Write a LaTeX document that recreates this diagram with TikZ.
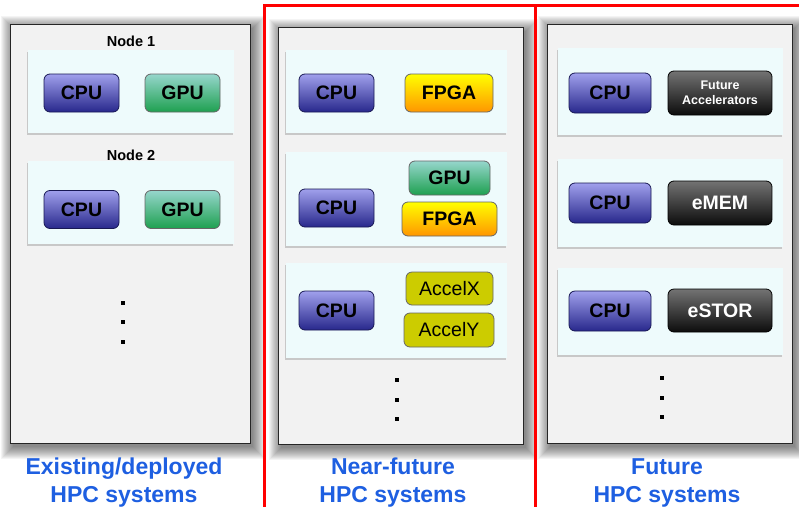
\documentclass[tikz,border=0pt]{standalone}
\usepackage{fontspec}
\setmainfont{Liberation Sans}
\usetikzlibrary{shadows}
\definecolor{panelfill}{RGB}{242,242,242}
\definecolor{boxfill}{RGB}{238,251,252}
\definecolor{cputop}{RGB}{160,160,236}
\definecolor{cpubot}{RGB}{40,40,140}
\definecolor{gputop}{RGB}{150,214,204}
\definecolor{gpubot}{RGB}{30,160,80}
\definecolor{fpgatop}{RGB}{255,255,0}
\definecolor{fpgabot}{RGB}{255,150,0}
\definecolor{accfill}{RGB}{204,204,0}
\definecolor{darktop}{RGB}{115,115,115}
\definecolor{darkbot}{RGB}{12,12,12}
\definecolor{labelblue}{RGB}{30,95,225}
\definecolor{frame}{RGB}{255,0,0}
\begin{document}
\begin{tikzpicture}[x=1pt,y=-1pt,
  panel/.style={draw=black!85, line width=1pt, fill=panelfill, inner sep=0pt},
  nodebox/.style={fill=boxfill, inner sep=0pt,
    drop shadow={shadow xshift=-0.8pt, shadow yshift=-1.6pt, opacity=0.25, fill=black!70}},
  comp/.style={rounded corners=6pt, draw=black!70, line width=0.8pt, inner sep=0pt,
    font=\fontsize{19.5}{19.5}\selectfont\bfseries},
  cpu/.style={comp, top color=cputop, bottom color=cpubot, draw=cpubot!60!black},
  gpu/.style={comp, top color=gputop, bottom color=gpubot, draw=black!60},
  fpga/.style={comp, top color=fpgatop, bottom color=fpgabot, draw=black!60},
  accel/.style={comp, fill=accfill, draw=black!60, font=\fontsize{19.5}{19.5}\selectfont},
  darkacc/.style={comp, top color=darktop, bottom color=darkbot, draw=black, text=white},
  nodelabel/.style={font=\fontsize{14.5}{14.5}\selectfont\bfseries},
  syslabel/.style={font=\fontsize{23}{28}\selectfont\bfseries, text=labelblue, align=center},
  dotmark/.style={fill=black, inner sep=0pt, minimum size=4pt},
  redframe/.style={draw=frame, line width=3pt}
]
\useasboundingbox (0,0) rectangle (799,506);
\fill[white] (0,0) rectangle (799,506);

% soft shadows behind the three panels
\foreach \xa/\ya/\xb/\yb in {10/24/250/443, 278/27/523/444, 547/24/792/443} {
  \foreach \i in {0,...,12}
    \fill[black, opacity=0.045] (\xa+3-\i,\ya+4-\i) rectangle (\xb+3+\i,\yb+4+\i);
}

% panels
\node[panel, minimum width=240pt, minimum height=419pt] (p1) at (130,233.5) {};
\node[panel, minimum width=245pt, minimum height=417pt] (p2) at (400.5,235.5) {};
\node[panel, minimum width=245pt, minimum height=419pt] (p3) at (669.5,233.5) {};

% existing systems
\node[nodelabel] (l11) at (131,41) {Node 1};
\node[nodebox, minimum width=206pt, minimum height=83pt] (n11) at (131,91.5) {};
\node[cpu, minimum width=75pt, minimum height=38pt] (c11) at (81.5,93) {CPU};
\node[gpu, minimum width=75pt, minimum height=38pt] (g11) at (182.5,93) {GPU};
\node[nodelabel] (l12) at (131,155) {Node 2};
\node[nodebox, minimum width=206pt, minimum height=83pt] (n12) at (131,202.5) {};
\node[cpu, minimum width=75pt, minimum height=38pt] (c12) at (81.5,209.5) {CPU};
\node[gpu, minimum width=75pt, minimum height=38pt] (g12) at (182.5,209.5) {GPU};
\node[dotmark] (d11) at (123,303) {};
\node[dotmark] (d12) at (123,322) {};
\node[dotmark] (d13) at (123,342) {};
\node[syslabel] (s1) at (124,482.5) {Existing/deployed\\HPC systems};

% near-future systems
\node[nodebox, minimum width=221pt, minimum height=83pt] (n21) at (396.5,91.5) {};
\node[cpu, minimum width=75pt, minimum height=38pt] (c21) at (336.5,93) {CPU};
\node[fpga, minimum width=88pt, minimum height=38pt] (f21) at (449,93) {FPGA};
\node[nodebox, minimum width=221pt, minimum height=94pt] (n22) at (396.5,199) {};
\node[cpu, minimum width=75pt, minimum height=38pt] (c22) at (336.5,208) {CPU};
\node[gpu, minimum width=81pt, minimum height=34pt] (g22) at (449.5,178) {GPU};
\node[fpga, minimum width=95pt, minimum height=34pt] (f22) at (449.5,219) {FPGA};
\node[nodebox, minimum width=221pt, minimum height=95pt] (n23) at (396.5,310.5) {};
\node[cpu, minimum width=75pt, minimum height=39pt] (c23) at (336.5,310.5) {CPU};
\node[accel, minimum width=87pt, minimum height=33pt] (ax) at (449.5,288.5) {AccelX};
\node[accel, minimum width=90pt, minimum height=34pt] (ay) at (449,330) {AccelY};
\node[dotmark] (d21) at (397,380) {};
\node[dotmark] (d22) at (397,400) {};
\node[dotmark] (d23) at (397,419) {};
\node[syslabel] (s2) at (393,482.5) {Near-future\\HPC systems};

% future systems
\node[nodebox, minimum width=225pt, minimum height=87pt] (n31) at (670.5,91.5) {};
\node[cpu, minimum width=82pt, minimum height=40pt] (c31) at (610,93) {CPU};
\node[darkacc, minimum width=104pt, minimum height=44pt, align=center,
  font=\fontsize{12.5}{15}\selectfont\bfseries] (fa) at (720,93) {Future\\Accelerators};
\node[nodebox, minimum width=225pt, minimum height=88pt] (n32) at (670.5,203) {};
\node[cpu, minimum width=82pt, minimum height=40pt] (c32) at (610,203) {CPU};
\node[darkacc, minimum width=104pt, minimum height=44pt] (em) at (720,203) {eMEM};
\node[nodebox, minimum width=225pt, minimum height=87pt] (n33) at (670.5,311.5) {};
\node[cpu, minimum width=82pt, minimum height=40pt] (c33) at (610,311) {CPU};
\node[darkacc, minimum width=104pt, minimum height=43pt] (es) at (720,310.5) {eSTOR};
\node[dotmark] (d31) at (662,378) {};
\node[dotmark] (d32) at (662,398) {};
\node[dotmark] (d33) at (662,417) {};
\node[syslabel] (s3) at (667,482.5) {Future\\HPC systems};

% highlight frames; their lower edges fall below the page
\draw[redframe] (264,5.5) rectangle (535,508.5);
\draw[redframe] (535,5.5) rectangle (802,508.5);
\end{tikzpicture}
\end{document}
